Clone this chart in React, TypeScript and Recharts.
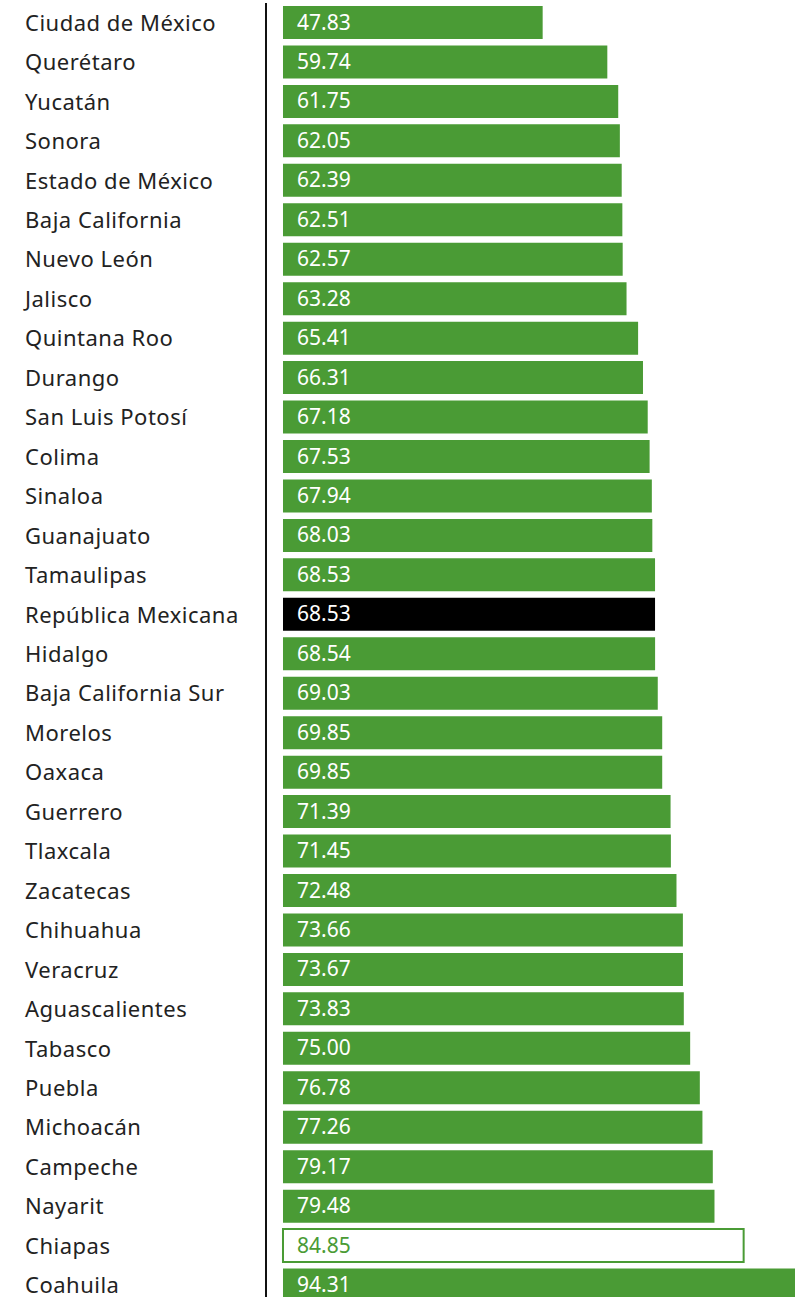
import { BarChart, Bar, XAxis, YAxis, Cell, LabelList } from 'recharts'

const states = [
  'Ciudad de México', 'Querétaro', 'Yucatán', 'Sonora', 'Estado de México', 'Baja California',
  'Nuevo León', 'Jalisco', 'Quintana Roo', 'Durango', 'San Luis Potosí', 'Colima', 'Sinaloa',
  'Guanajuato', 'Tamaulipas', 'República Mexicana', 'Hidalgo', 'Baja California Sur', 'Morelos',
  'Oaxaca', 'Guerrero', 'Tlaxcala', 'Zacatecas', 'Chihuahua', 'Veracruz', 'Aguascalientes',
  'Tabasco', 'Puebla', 'Michoacán', 'Campeche', 'Nayarit', 'Chiapas', 'Coahuila',
]

const values = [
  47.83, 59.74, 61.75, 62.05, 62.39, 62.51, 62.57, 63.28, 65.41, 66.31, 67.18, 67.53, 67.94,
  68.03, 68.53, 68.53, 68.54, 69.03, 69.85, 69.85, 71.39, 71.45, 72.48, 73.66, 73.67, 73.83,
  75.0, 76.78, 77.26, 79.17, 79.48, 84.85, 94.31,
]

const GREEN = '#4a9b35'
const FONT = '"Noto Sans", "Open Sans", sans-serif'

const data = states.map((name, i) => ({ name, value: values[i] }))

function StateTick(props: any) {
  const { y, payload } = props
  return (
    <text
      x={25}
      y={y - 1}
      textAnchor="start"
      dominantBaseline="central"
      fontSize={22}
      letterSpacing={0.5}
      fill="#222"
      fontFamily={FONT}
    >
      {payload.value}
    </text>
  )
}

function ValueLabel(props: any) {
  const { x, y, height, value, index } = props
  const isChiapas = states[index] === 'Chiapas'
  return (
    <text
      x={x + 14}
      y={y + height / 2 - 1}
      dominantBaseline="central"
      fontSize={21}
      fill={isChiapas ? GREEN : '#fff'}
      fontFamily={FONT}
    >
      {Number(value).toFixed(2)}
    </text>
  )
}

export default function App() {
  return (
    <div style={{ position: 'absolute', left: 0, top: 0, background: '#fff' }}>
      <BarChart
        width={801}
        height={1310}
        data={data}
        layout="vertical"
        margin={{ top: 3, right: 6, bottom: 5, left: 0 }}
        barSize={33}
      >
        <XAxis type="number" domain={[-3.13, 94.31]} hide />
        <YAxis
          type="category"
          dataKey="name"
          width={266}
          tick={<StateTick />}
          tickLine={false}
          axisLine={{ stroke: '#111', strokeWidth: 2 }}
          interval={0}
        />
        <Bar dataKey="value" isAnimationActive={false}>
          {data.map(d => {
            if (d.name === 'República Mexicana') return <Cell key={d.name} fill="#000" />
            if (d.name === 'Chiapas') return <Cell key={d.name} fill="#fff" stroke={GREEN} strokeWidth={2} />
            return <Cell key={d.name} fill={GREEN} />
          })}
          <LabelList dataKey="value" content={<ValueLabel />} />
        </Bar>
      </BarChart>
    </div>
  )
}
